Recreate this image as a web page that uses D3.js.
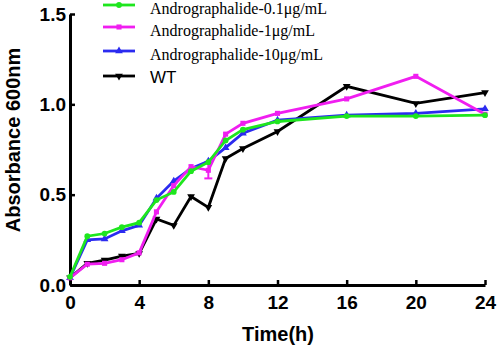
<!DOCTYPE html>
<html lang="en">
<head>
<meta charset="UTF-8">
<title>Absorbance chart</title>
<style>
  body { margin: 0; background: #fff; }
  svg { display: block; }
</style>
</head>
<body>
<svg id="chart" width="498" height="349"></svg>
<script src="https://cdn.jsdelivr.net/npm/d3@7"></script>
<script>
// data
const hours = [0, 1, 2, 3, 4, 5, 6, 7, 8, 9, 10, 12, 16, 20, 24];
const andro01 = [0.045, 0.27, 0.285, 0.32, 0.345, 0.47, 0.515, 0.63, 0.68, 0.80, 0.86, 0.905, 0.935, 0.935, 0.94];
const andro1 = [0.04, 0.115, 0.12, 0.14, 0.178, 0.405, 0.55, 0.655, 0.635, 0.835, 0.895, 0.95, 1.03, 1.155, 0.945];
const andro10 = [0.04, 0.25, 0.255, 0.30, 0.33, 0.48, 0.575, 0.645, 0.685, 0.76, 0.84, 0.912, 0.94, 0.95, 0.975];
const wt = [0.04, 0.12, 0.138, 0.16, 0.175, 0.365, 0.33, 0.49, 0.43, 0.70, 0.755, 0.85, 1.10, 1.005, 1.065];
const errHour = 8, errLow = 0.59, errHigh = 0.68;
const xTicks = [0, 4, 8, 12, 16, 20, 24];
const yTicks = [0, 0.5, 1.0, 1.5];
const legendLabels = ["Andrographalide-0.1\u03bcg/mL", "Andrographalide-1\u03bcg/mL", "Andrographalide-10\u03bcg/mL", "WT"];

let svg = d3.select("#chart");
let plotLeft = 70, plotRight = 485, plotTop = 14, plotBottom = 285;

let x = d3.scaleLinear().domain([0, 24]).range([plotLeft, plotRight]);
let y = d3.scaleLinear().domain([0, 1.5]).range([plotBottom, plotTop]);

let series = [
  {name: legendLabels[3], vals: wt, color: "#000000", shape: "down"},
  {name: legendLabels[2], vals: andro10, color: "#2b2bf0", shape: "up"},
  {name: legendLabels[1], vals: andro1, color: "#f01ef0", shape: "square"},
  {name: legendLabels[0], vals: andro01, color: "#1ee61e", shape: "circle"}
];

function symbolFor(shape) {
  if (shape == "circle") return d3.symbol().type(d3.symbolCircle).size(26);
  if (shape == "square") return d3.symbol().type(d3.symbolSquare).size(26);
  return d3.symbol().type(d3.symbolTriangle).size(26);
}

// axes
let xAxis = svg.append("g")
  .attr("transform", "translate(0," + plotBottom + ")")
  .call(d3.axisBottom(x).tickValues(xTicks).tickSizeInner(-5).tickSizeOuter(0).tickPadding(11).tickFormat(d3.format("d")));
let yAxis = svg.append("g")
  .attr("transform", "translate(" + plotLeft + ",0)")
  .call(d3.axisLeft(y).tickValues(yTicks).tickSizeInner(-5).tickSizeOuter(0).tickPadding(4).tickFormat(d3.format(".1f")));

[xAxis, yAxis].forEach(a => {
  a.select(".domain").attr("stroke", "#000").attr("stroke-width", 3);
  a.selectAll(".tick line").attr("stroke", "#000").attr("stroke-width", 2.5);
  a.selectAll("text")
    .attr("font-family", "Liberation Sans, Arial, sans-serif")
    .attr("font-weight", "bold")
    .attr("font-size", 19)
    .attr("fill", "#000");
});

// error bar
let eb = svg.append("g").attr("stroke", "#f01ef0").attr("stroke-width", 2);
eb.append("line").attr("x1", x(errHour)).attr("x2", x(errHour)).attr("y1", y(errLow)).attr("y2", y(errHigh));
eb.append("line").attr("x1", x(errHour) - 4).attr("x2", x(errHour) + 4).attr("y1", y(errLow)).attr("y2", y(errLow));
eb.append("line").attr("x1", x(errHour) - 4).attr("x2", x(errHour) + 4).attr("y1", y(errHigh)).attr("y2", y(errHigh));

// lines
let line = d3.line().x((d, i) => x(hours[i])).y(d => y(d));
series.forEach(s => {
  svg.append("path")
    .datum(s.vals)
    .attr("d", line)
    .attr("fill", "none")
    .attr("stroke", s.color)
    .attr("stroke-width", 2.8)
    .attr("stroke-linejoin", "miter");
  svg.append("g").selectAll("path")
    .data(s.vals)
    .enter()
    .append("path")
    .attr("d", symbolFor(s.shape))
    .attr("transform", (d, i) => "translate(" + x(hours[i]) + "," + y(d) + ")" + (s.shape == "down" ? " rotate(180)" : ""))
    .attr("fill", s.color);
});

// axis titles
svg.append("text")
  .attr("x", 278).attr("y", 341)
  .attr("text-anchor", "middle")
  .attr("font-family", "Liberation Sans, Arial, sans-serif")
  .attr("font-weight", "bold")
  .attr("font-size", 20)
  .text("Time(h)");
svg.append("text")
  .attr("transform", "translate(20,140) rotate(-90)")
  .attr("text-anchor", "middle")
  .attr("font-family", "Liberation Sans, Arial, sans-serif")
  .attr("font-weight", "bold")
  .attr("font-size", 20)
  .text("Absorbance 600nm");

// legend
let legendOrder = [series[3], series[2], series[1], series[0]];
let legendY = [5, 27, 51, 76];
legendOrder.forEach((s, i) => {
  let g = svg.append("g").attr("transform", "translate(0," + legendY[i] + ")");
  g.append("line").attr("x1", 103).attr("x2", 135).attr("y1", 0).attr("y2", 0)
    .attr("stroke", s.color).attr("stroke-width", 2.8);
  g.append("path").attr("d", symbolFor(s.shape))
    .attr("transform", "translate(119,0)" + (s.shape == "down" ? " rotate(180)" : ""))
    .attr("fill", s.color);
  let isWT = s.name == "WT";
  g.append("text")
    .attr("x", 150).attr("y", isWT ? 7 : 9)
    .attr("font-family", isWT ? "Liberation Sans, Arial, sans-serif" : "Liberation Serif, Times New Roman, serif")
    .attr("font-size", isWT ? 17 : 16)
    .text(s.name);
});
</script>
</body>
</html>
